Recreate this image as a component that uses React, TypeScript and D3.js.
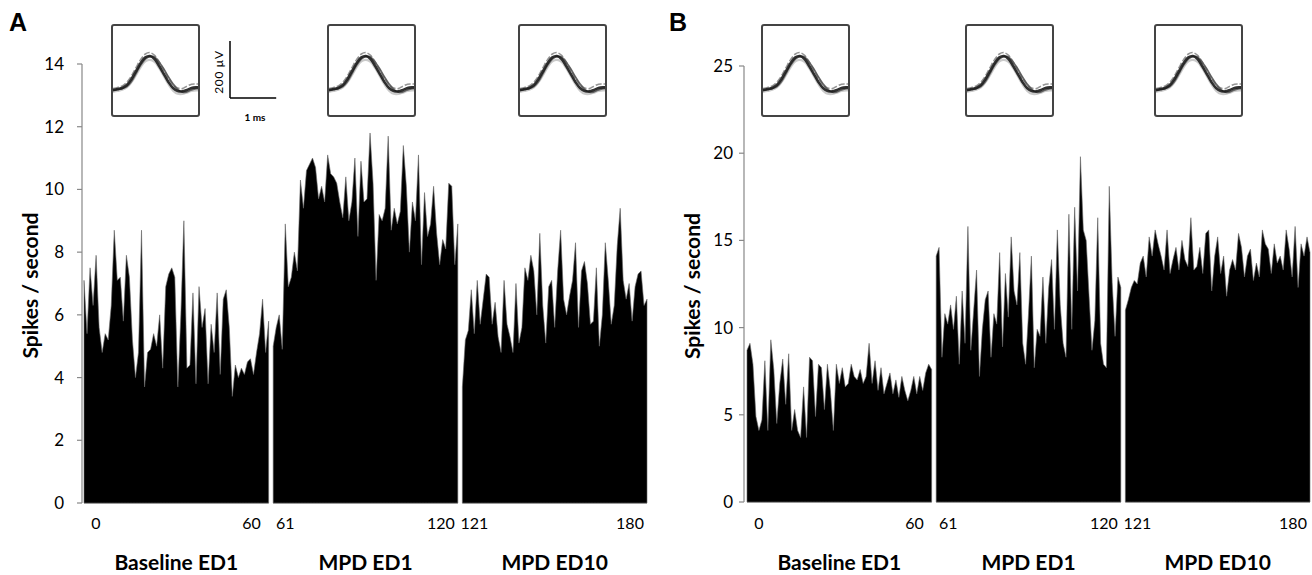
import React from "react";
import * as d3 from "d3";

const width = 1312;
const height = 575;

// recording blocks and their time labels
const segments = ["Baseline ED1", "MPD ED1", "MPD ED10"];
const segFirst = [0, 61, 121];
const segLast = [60, 120, 180];

const ticksA = [0, 2, 4, 6, 8, 10, 12, 14];
const ticksB = [0, 5, 10, 15, 20, 25];

const aBaseline = [7.1, 5.4, 7.5, 6.3, 7.9, 5.6, 4.8, 5.4, 5.2, 6.3, 8.7, 7.1, 7.2, 5.8, 7.9, 7.2, 5.2, 4.0, 4.8, 8.7, 3.7, 4.8, 4.9, 5.4, 5.0, 6.0, 4.3, 6.9, 7.3, 7.5, 7.2, 3.7, 6.0, 9.0, 4.3, 4.4, 6.7, 3.8, 6.9, 5.6, 6.2, 3.8, 5.7, 4.8, 6.7, 4.1, 6.5, 6.8, 5.6, 3.4, 4.4, 4.0, 4.3, 4.1, 4.5, 4.6, 4.1, 4.8, 5.4, 6.5, 4.8, 5.8];
const aMpdEd1 = [5.0, 5.6, 6.0, 4.9, 8.9, 6.9, 7.2, 8.0, 7.4, 10.3, 9.4, 10.6, 10.8, 11.0, 10.7, 9.7, 10.1, 9.6, 11.1, 10.5, 10.4, 10.2, 9.6, 9.1, 10.4, 9.0, 9.6, 11.0, 8.5, 10.9, 9.6, 9.7, 11.8, 10.2, 7.1, 9.2, 9.0, 9.4, 11.7, 8.7, 9.4, 8.9, 9.3, 11.4, 10.1, 8.0, 9.6, 9.0, 11.1, 7.6, 9.9, 8.5, 8.9, 10.1, 8.6, 7.6, 8.4, 8.1, 10.2, 10.1, 7.6, 8.9];
const aMpdEd10 = [3.7, 5.2, 5.5, 6.8, 5.4, 7.1, 5.7, 6.5, 7.3, 7.2, 5.7, 6.4, 5.3, 4.8, 7.1, 5.7, 5.3, 4.8, 7.0, 5.1, 5.6, 7.5, 7.1, 7.9, 7.4, 6.0, 8.6, 6.3, 5.1, 6.9, 7.1, 5.6, 7.4, 8.7, 6.5, 6.0, 6.6, 7.1, 8.3, 5.6, 7.4, 7.7, 7.0, 5.7, 5.8, 7.5, 5.0, 6.0, 8.3, 7.1, 5.7, 6.3, 8.2, 9.4, 7.1, 6.5, 7.0, 5.8, 6.9, 7.3, 7.4, 6.3, 6.5];

// Panel B firing rate (spikes / second)
const bBaseline = [8.7, 9.1, 7.9, 4.9, 4.1, 4.7, 8.1, 4.1, 9.3, 7.6, 4.5, 6.8, 8.2, 5.6, 8.5, 4.1, 5.3, 4.1, 3.7, 6.6, 3.7, 8.3, 8.1, 4.9, 7.9, 7.7, 5.3, 7.9, 6.4, 4.1, 7.9, 6.8, 7.7, 6.6, 6.8, 7.9, 7.2, 7.0, 7.6, 6.8, 7.2, 9.1, 6.8, 8.1, 6.4, 7.7, 6.2, 6.8, 7.4, 6.2, 7.0, 6.0, 7.2, 6.4, 5.8, 6.4, 7.2, 6.2, 7.2, 6.4, 7.4, 7.9, 7.6];
const bMpdEd1 = [14.1, 14.6, 8.3, 10.8, 10.2, 11.3, 9.9, 11.8, 7.9, 12.1, 9.1, 15.8, 8.7, 11.0, 13.3, 7.2, 9.9, 11.6, 12.1, 8.3, 10.8, 10.2, 14.3, 8.9, 13.1, 10.6, 15.2, 12.1, 11.3, 14.3, 9.1, 7.9, 10.8, 14.1, 7.7, 9.9, 9.5, 12.9, 9.1, 12.3, 13.9, 9.9, 15.6, 11.3, 9.1, 8.3, 16.5, 9.9, 16.9, 12.1, 19.8, 15.6, 15.0, 11.8, 8.7, 10.4, 16.3, 9.1, 7.9, 7.7, 18.1, 12.6, 9.5, 12.9, 12.3];
const bMpdEd10 = [11.0, 11.6, 12.3, 12.7, 12.5, 13.7, 14.1, 12.9, 15.2, 14.1, 15.6, 14.8, 14.1, 13.3, 15.6, 13.1, 13.9, 14.6, 13.3, 15.0, 13.9, 13.5, 16.3, 13.3, 13.5, 14.6, 13.1, 15.4, 15.6, 12.1, 14.1, 15.2, 13.1, 14.1, 11.8, 13.3, 13.9, 13.3, 15.4, 14.6, 12.9, 14.1, 14.5, 12.7, 13.7, 12.9, 15.6, 14.8, 14.5, 13.1, 14.8, 13.7, 14.1, 13.3, 15.6, 14.5, 12.9, 15.8, 12.3, 14.8, 14.1, 15.2, 14.3];

// spike waveform overlays (ms, µV)
const waveT = [0, 0.1, 0.2, 0.3, 0.4, 0.5, 0.6, 0.7, 0.8, 0.9, 1.0, 1.1, 1.2, 1.3, 1.4, 1.5, 1.6, 1.7, 1.8, 1.84];
const waveMean = [-5, 0, 5, 20, 50, 90, 130, 158, 165, 150, 115, 75, 35, 5, -10, -12, -5, 5, 8, 8];
const waveHigh = [2, 8, 15, 34, 66, 108, 148, 175, 182, 168, 135, 95, 55, 22, 5, 2, 14, 24, 25, 25];
const waveLow = [-14, -10, -4, 8, 34, 70, 110, 138, 146, 136, 104, 64, 24, -8, -24, -25, -18, -10, -7, -7];
const waveLate = [-8, -3, 2, 12, 38, 78, 120, 150, 162, 160, 134, 100, 60, 25, -2, -16, -14, -4, 2, 2];

const font = "Lato, 'Open Sans', sans-serif";

const Inset = ({ left, top, scaleBar }) => {
  const w = 87;
  const h = 91;
  const xs = d3.scaleLinear().domain([0, d3.max(waveT)]).range([left + 1, left + w - 1]);
  const ys = d3.scaleLinear().domain([0, 200]).range([top + 64, top + 24]);
  const line = d3.line().x((d, i) => xs(waveT[i])).y(d => ys(d)).curve(d3.curveCatmullRom);
  const traces = [
    { v: waveLow, c: "#c4c4c4", w: 2.2, dash: null },
    { v: waveHigh, c: "#8a8a8a", w: 1.6, dash: "6 2" },
    { v: waveLate, c: "#555", w: 1.8, dash: null },
    { v: waveMean, c: "#1a1a1a", w: 2.6, dash: null },
  ];
  const sbX = left + w + 31;
  return (
    <g>
      <rect x={left} y={top} width={w} height={h} rx={2} fill="white" stroke="#444" strokeWidth={2} />
      {traces.map((t, i) => (
        <path key={i} d={line(t.v)} fill="none" stroke={t.c} strokeWidth={t.w} strokeOpacity={0.9}
          strokeDasharray={t.dash || undefined} />
      ))}
      {scaleBar && (
        <g>
          <line x1={sbX} x2={sbX} y1={ys(200) - 8} y2={ys(0) + 9} stroke="black" strokeWidth={1.5} />
          <line x1={sbX} x2={sbX + xs(1) - xs(0)} y1={ys(0) + 9} y2={ys(0) + 9} stroke="black" strokeWidth={1.5} />
          <text transform={`translate(${sbX - 7},${top + 47}) rotate(-90)`} textAnchor="middle"
            fontSize={12} fontFamily={font} letterSpacing={0.6}>200  µV</text>
          <text x={sbX + 25} y={top + 96} textAnchor="middle" fontSize={10} fontFamily={font} fontWeight="bold">1 ms</text>
        </g>
      )}
    </g>
  );
};

const Panel = ({ letter, letterX, axisX, left, right, yMax, yTop, yBottom, ticks, labelEnd, titleX, series, insets }) => {
  const y = d3.scaleLinear().domain([0, yMax]).range([yBottom, yTop]);
  const seg = d3.scaleBand().domain(segments).range([left, right]).paddingInner(0.024);
  const bw = seg.bandwidth();

  return (
    <g>
      <text x={letterX} y={31} fontSize={25} fontWeight="bold" fontFamily="'Liberation Sans', Arial, sans-serif">{letter}</text>

      {segments.map((s, i) => {
        const bx = seg(s);
        const vals = series[i];
        const xs = d3.scaleLinear().domain([0, vals.length - 1]).range([bx, bx + bw]);
        const area = d3.area().x((d, j) => xs(j)).y0(y(0)).y1(d => y(d));
        const ts = d3.scaleLinear().domain([segFirst[i], segLast[i]]).range([bx + 12, bx + bw - 17]);
        return (
          <g key={s}>
            <path d={area(vals)} fill="black" stroke="#666" strokeWidth={0.6} strokeLinejoin="miter" />
            <line x1={bx} x2={bx + bw} y1={y(0) + 0.5} y2={y(0) + 0.5} stroke="#999" strokeWidth={1} />
            {[segFirst[i], segLast[i]].map(t => (
              <text key={t} x={ts(t)} y={529} textAnchor="middle" fontSize={16} fontFamily={font}>{t}</text>
            ))}
            <text x={bx + bw / 2} y={570} textAnchor="middle" fontSize={21} fontWeight="bold" fontFamily={font}>{s}</text>
          </g>
        );
      })}

      <line x1={axisX} x2={axisX} y1={y(yMax)} y2={y(0)} stroke="#888" strokeWidth={1.2} />
      {ticks.map(t => (
        <g key={t}>
          <line x1={axisX - 5} x2={axisX} y1={y(t)} y2={y(t)} stroke="#888" strokeWidth={1.2} />
          <text x={labelEnd} y={y(t)} dy="0.35em" textAnchor="end" fontSize={17} fontFamily={font}>{t}</text>
        </g>
      ))}
      <text transform={`translate(${titleX},${(yTop + yBottom) / 2 + 2}) rotate(-90)`} textAnchor="middle"
        fontSize={21} fontWeight="bold" fontFamily={font}>Spikes / second</text>

      {insets.map((ix, i) => (
        <Inset key={i} left={ix} top={25} scaleBar={letter === "A" && i === 0} />
      ))}
    </g>
  );
};

export default function App() {
  return (
    <svg width={width} height={height} style={{ position: "absolute", left: 0, top: 0, background: "white" }}>
      <rect width={width} height={height} fill="white" />
      <Panel letter="A" letterX={9} axisX={82} left={84} right={647} yMax={14} yTop={64} yBottom={503}
        ticks={ticksA} labelEnd={64} titleX={38} series={[aBaseline, aMpdEd1, aMpdEd10]} insets={[112, 328, 519]} />
      <Panel letter="B" letterX={669} axisX={744} left={747} right={1310} yMax={25} yTop={66} yBottom={502}
        ticks={ticksB} labelEnd={733} titleX={700} series={[bBaseline, bMpdEd1, bMpdEd10]} insets={[762, 966, 1155]} />
    </svg>
  );
}
